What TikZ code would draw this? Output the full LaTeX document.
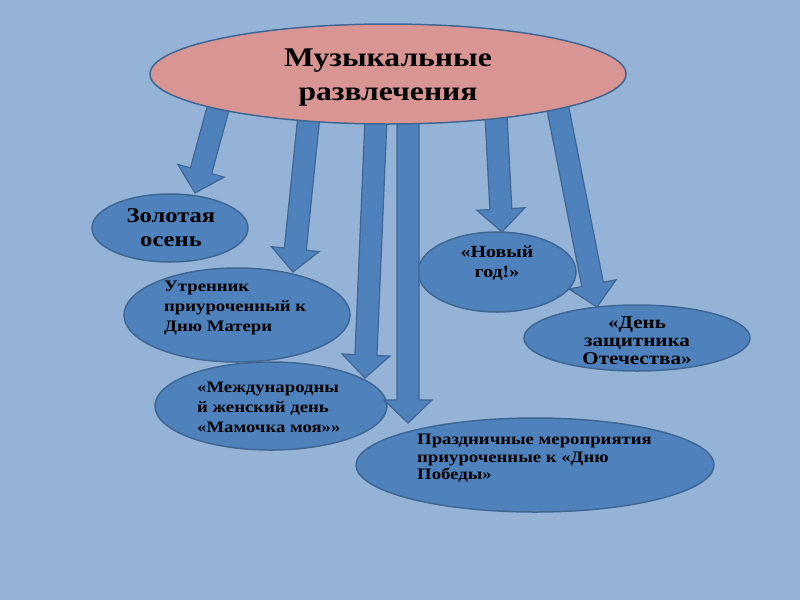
\documentclass[tikz,border=0pt]{standalone}
\usepackage{fontspec}
\setmainfont[FakeStretch=1.17]{Liberation Serif}
\usetikzlibrary{calc,shapes.geometric}
\definecolor{bg}{HTML}{95B3D7}
\definecolor{efill}{HTML}{4F81BD}
\definecolor{eline}{HTML}{3F6793}
\definecolor{pinkfill}{HTML}{D99594}
\tikzset{
  oval/.style={ellipse, draw=eline, fill=efill, line width=1.5pt, inner sep=0pt},
  topoval/.style={ellipse, draw=eline, fill=pinkfill, line width=1.5pt, inner sep=0pt},
  lbl/.style={font=\bfseries\fontsize{16}{20}\selectfont, text=black, inner sep=0pt},
  biglbl/.style={font=\bfseries\fontsize{27}{34}\selectfont, text=black, inner sep=0pt, align=center},
  arrowbody/.style={fill=efill, draw=eline, line width=1.2pt, line join=miter},
}
% #1 start, #2 tip
\newcommand\blockarrow[2]{%
  \coordinate (#1h) at ($(#2)!23pt!(#1)$);
  \path[arrowbody]
    ($(#1)!11pt!90:(#2)$) -- ($(#1h)!11pt!90:(#2)$) -- ($(#1h)!24pt!90:(#2)$)
    -- (#2) -- ($(#1h)!24pt!-90:(#2)$) -- ($(#1h)!11pt!-90:(#2)$)
    -- ($(#1)!11pt!-90:(#2)$) -- cycle;
}
\begin{document}
\begin{tikzpicture}[x=1pt,y=-1pt]
\useasboundingbox (0,0) rectangle (800,600);
\fill[bg] (0,0) rectangle (800,600);

% target ellipses
\node[oval, minimum width=156pt, minimum height=68pt] (zo) at (170,228) {};
\node[oval, minimum width=226pt, minimum height=94pt] (ut) at (237,315) {};
\node[oval, minimum width=232pt, minimum height=88pt] (md) at (271,406) {};
\node[oval, minimum width=158pt, minimum height=80pt] (ng) at (497,272) {};
\node[oval, minimum width=226pt, minimum height=66pt] (dz) at (637,338) {};
\node[oval, minimum width=358pt, minimum height=94pt] (pr) at (535,465) {};

% arrows
\coordinate (a1) at (219,105); \coordinate (a1t) at (195,193);
\coordinate (a2) at (309,115); \coordinate (a2t) at (293,272);
\coordinate (a3) at (376,118); \coordinate (a3t) at (365,378);
\coordinate (a4) at (408,118); \coordinate (a4t) at (408,423);
\coordinate (a5) at (496,115); \coordinate (a5t) at (502,232);
\coordinate (a6) at (557,104); \coordinate (a6t) at (597,307);
\blockarrow{a1}{a1t}
\blockarrow{a2}{a2t}
\blockarrow{a3}{a3t}
\blockarrow{a4}{a4t}
\blockarrow{a5}{a5t}
\blockarrow{a6}{a6t}

% top ellipse
\node[topoval, minimum width=476pt, minimum height=100pt] (top) at (388,74) {};
\node[biglbl, anchor=north] (toptxt) at (388,49) {Музыкальные\\развлечения};

% texts
\node[lbl, align=center, anchor=north, font=\bfseries\fontsize{21}{24}\selectfont] (zot) at (171,208) {Золотая\\осень};
\node[lbl, align=left, anchor=north west] (utt) at (164,281) {Утренник\\приуроченный к\\Дню Матери};
\node[lbl, align=left, anchor=north west] (mdt) at (197,382) {«Международны\\й женский день\\«Мамочка моя»»};
\node[lbl, align=center, anchor=north, font=\bfseries\fontsize{17}{20}\selectfont] (ngt) at (497,246) {«Новый\\год!»};
\node[lbl, align=center, anchor=north, font=\bfseries\fontsize{18}{18}\selectfont] (dzt) at (637,317) {«День\\защитника\\Отечества»};
\node[lbl, align=left, anchor=north west, font=\bfseries\fontsize{16}{17.5}\selectfont] (prt) at (417,434) {Праздничные мероприятия\\приуроченные к «Дню\\Победы»};
\end{tikzpicture}
\end{document}
